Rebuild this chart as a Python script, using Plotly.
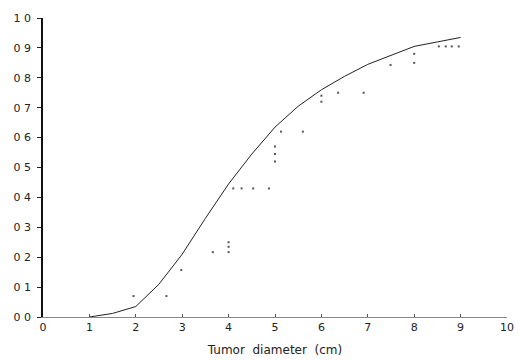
import plotly.graph_objects as go

# Fitted cumulative curve
curve_x = [1, 1.5, 2, 2.5, 3, 3.5, 4, 4.5, 5, 5.5, 6, 6.5, 7, 7.5, 8, 8.5, 9]
curve_y = [0.0, 0.012, 0.035, 0.11, 0.21, 0.33, 0.445, 0.545, 0.635, 0.705, 0.76,
           0.805, 0.845, 0.875, 0.905, 0.92, 0.935]

# Observed (empirical) points
obs_x = [1.95, 2.66, 2.98, 3.66, 4.0, 4.0, 4.0, 4.1, 4.28, 4.53, 4.87,
         5.0, 5.0, 5.0, 5.13, 5.6, 6.0, 6.0, 6.36, 6.91, 7.49, 8.0, 8.0,
         8.53, 8.68, 8.81, 8.96]
obs_y = [0.07, 0.07, 0.157, 0.217, 0.217, 0.235, 0.25, 0.43, 0.43, 0.43, 0.43,
         0.52, 0.545, 0.57, 0.62, 0.62, 0.72, 0.74, 0.75, 0.75, 0.843, 0.85, 0.88,
         0.905, 0.905, 0.905, 0.905]

x_ticks = [0, 1, 2, 3, 4, 5, 6, 7, 8, 9, 10]
y_ticks = [0.0, 0.1, 0.2, 0.3, 0.4, 0.5, 0.6, 0.7, 0.8, 0.9, 1.0]
y_ticktext = ["0 0", "0 1", "0 2", "0 3", "0 4", "0 5", "0 6", "0 7", "0 8", "0 9", "1 0"]

fig = go.Figure()
fig.add_trace(go.Scatter(x=curve_x, y=curve_y, mode="lines",
                         line=dict(color="#222222", width=1),
                         showlegend=False))
fig.add_trace(go.Scatter(x=obs_x, y=obs_y, mode="markers",
                         marker=dict(color="#555555", size=2, symbol="square"),
                         showlegend=False))

fig.update_layout(
    width=521, height=362,
    margin=dict(l=43, r=7, t=18, b=44),
    paper_bgcolor="white", plot_bgcolor="white",
    font=dict(family="DejaVu Sans", size=11, color="#222222"),
    xaxis=dict(range=[0, 10], tickvals=x_ticks, ticks="inside", ticklen=3,
               tickcolor="#555555", showline=True, linecolor="#888888", linewidth=1,
               showgrid=False, zeroline=False,
               title=dict(text="Tumor  diameter  (cm)", standoff=12,
                          font=dict(size=12, family="DejaVu Sans"))),
    yaxis=dict(range=[0, 1.0], tickvals=y_ticks, ticktext=y_ticktext,
               ticks="outside", ticklen=4, tickcolor="#222222",
               ticklabelstandoff=4,
               showline=True, linecolor="#111111", linewidth=1.5,
               showgrid=False, zeroline=False),
)

fig.write_html("out.html")
